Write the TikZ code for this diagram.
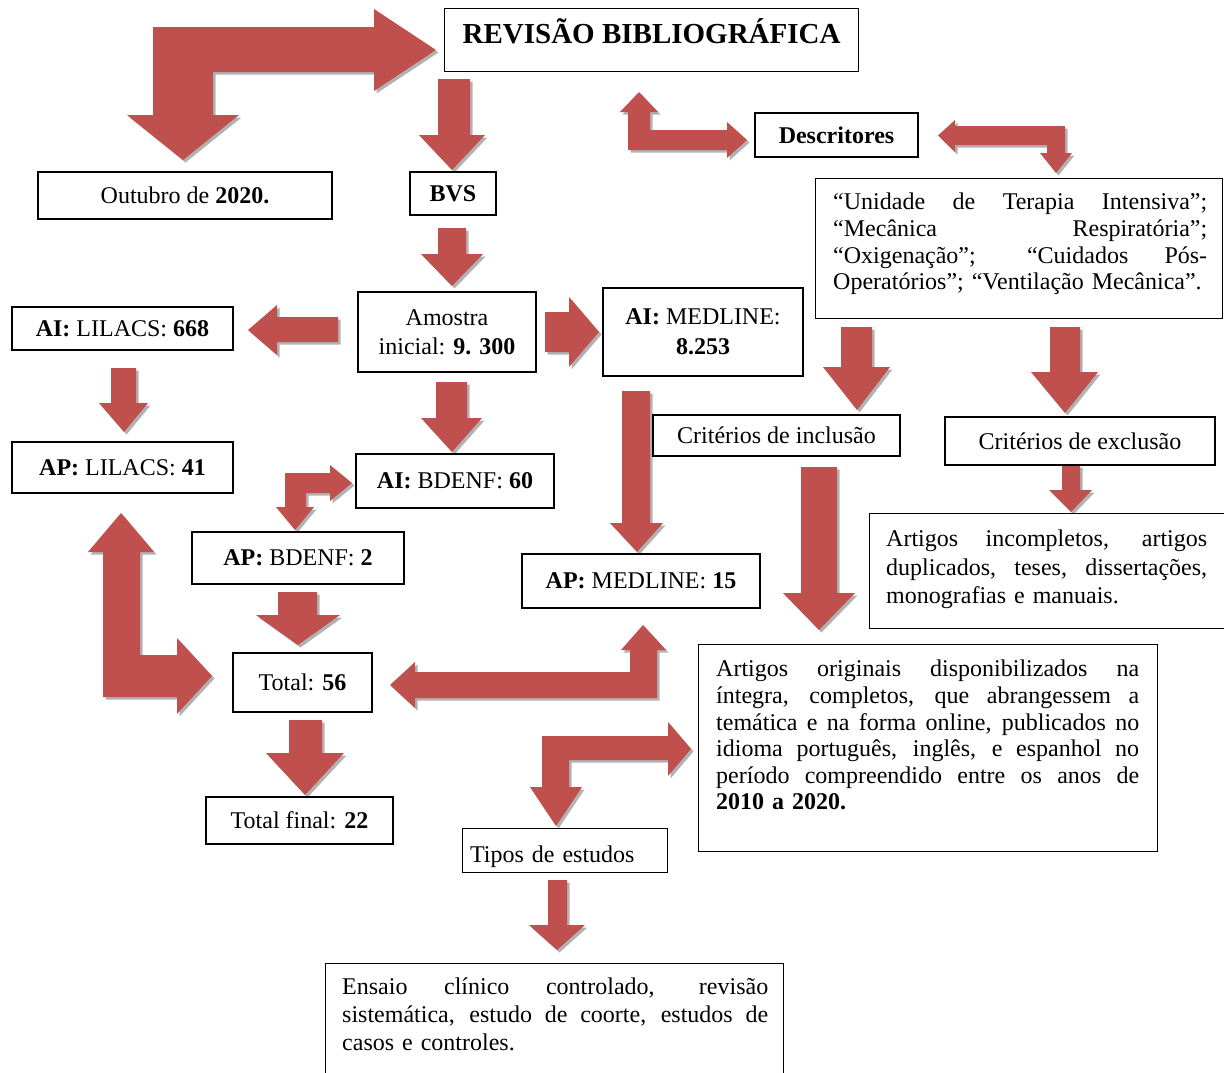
\documentclass[tikz,border=0pt]{standalone}
\usepackage{fontspec}
\setmainfont{Liberation Serif}
\usepackage{xcolor}
\definecolor{arrred}{RGB}{192,80,77}
\newcommand{\fullline}[1]{\makebox[\hsize][s]{\spaceskip=0pt\relax #1}}

\begin{document}
\begin{tikzpicture}[x=1pt,y=1pt]
		\tikzstyle{every node}+=[inner sep=0pt, font=\fontsize{24}{27}\selectfont]
		\tikzstyle{box}=[draw=black, line width=1.2pt, fill=white, align=center]
		\tikzstyle{para}=[anchor=north west, align=left, font=\fontsize{24}{26.6}\selectfont]
		\tikzstyle{blockarrow}=[fill=arrred, preaction={fill=black, opacity=0.3, transform canvas={xshift=2.5pt,yshift=-2.5pt}}]
		\useasboundingbox (0,0) rectangle (1224,-1072);
		\clip (0,0) rectangle (1224,-1072);
		\fill [white] (0,0) rectangle (1224,-1072);
		\fill [blockarrow] (153,-27) -- (374,-27) -- (374,-9) -- (436,-50) -- (374,-91) -- (374,-72) -- (213,-72) -- (213,-115) -- (239,-115) -- (183,-160) -- (127,-115) -- (153,-115) -- cycle;
		\fill [blockarrow] (438,-79) -- (470,-79) -- (470,-135) -- (485,-135) -- (452,-170) -- (419,-135) -- (438,-135) -- cycle;
		\fill [blockarrow] (438,-228) -- (466,-228) -- (466,-254) -- (483,-254) -- (452,-286) -- (421,-254) -- (438,-254) -- cycle;
		\fill [blockarrow] (338,-317) -- (277,-317) -- (277,-305) -- (248,-330) -- (277,-355) -- (277,-342) -- (338,-342) -- cycle;
		\fill [blockarrow] (545,-312) -- (569,-312) -- (569,-297) -- (599,-332) -- (569,-367) -- (569,-352) -- (545,-352) -- cycle;
		\fill [blockarrow] (111,-368) -- (136,-368) -- (136,-403) -- (148,-403) -- (124,-432) -- (99,-403) -- (111,-403) -- cycle;
		\fill [blockarrow] (436,-382) -- (467,-382) -- (467,-418) -- (482,-418) -- (452,-452) -- (421,-418) -- (436,-418) -- cycle;
		\fill [blockarrow] (285,-473) -- (330,-473) -- (330,-465) -- (352,-483) -- (330,-501) -- (330,-493) -- (306,-493) -- (306,-507) -- (314,-507) -- (295,-530) -- (276,-507) -- (285,-507) -- cycle;
		\fill [blockarrow] (103,-552) -- (88,-552) -- (121,-513) -- (154,-552) -- (140,-552) -- (140,-655) -- (177,-655) -- (177,-638) -- (212,-676) -- (177,-714) -- (177,-697) -- (103,-697) -- cycle;
		\fill [blockarrow] (278,-592) -- (317,-592) -- (317,-615) -- (340,-615) -- (298,-645) -- (256,-615) -- (278,-615) -- cycle;
		\fill [blockarrow] (289,-720) -- (322,-720) -- (322,-753) -- (344,-753) -- (305,-795) -- (266,-753) -- (289,-753) -- cycle;
		\fill [blockarrow] (415,-672) -- (630,-672) -- (630,-650) -- (621,-650) -- (643,-625) -- (666,-650) -- (657,-650) -- (657,-698) -- (415,-698) -- (415,-708) -- (390,-685) -- (415,-662) -- cycle;
		\fill [blockarrow] (622,-391) -- (650,-391) -- (650,-523) -- (663,-523) -- (637,-552) -- (610,-523) -- (622,-523) -- cycle;
		\fill [blockarrow] (841,-327) -- (872,-327) -- (872,-367) -- (890,-367) -- (857,-410) -- (823,-367) -- (841,-367) -- cycle;
		\fill [blockarrow] (1050,-327) -- (1080,-327) -- (1080,-372) -- (1098,-372) -- (1065,-413) -- (1031,-372) -- (1050,-372) -- cycle;
		\fill [blockarrow] (1062,-465) -- (1080,-465) -- (1080,-490) -- (1092,-490) -- (1071,-512) -- (1049,-490) -- (1062,-490) -- cycle;
		\fill [blockarrow] (801,-467) -- (837,-467) -- (837,-593) -- (855,-593) -- (819,-630) -- (783,-593) -- (801,-593) -- cycle;
		\fill [blockarrow] (628,-150) -- (628,-112) -- (620,-112) -- (639,-92) -- (658,-112) -- (650,-112) -- (650,-130) -- (727,-130) -- (727,-122) -- (747,-140) -- (727,-158) -- (727,-150) -- cycle;
		\fill [blockarrow] (955,-126) -- (1065,-126) -- (1065,-153) -- (1072,-153) -- (1056,-173) -- (1040,-153) -- (1047,-153) -- (1047,-145) -- (955,-145) -- (955,-152) -- (938,-135.5) -- (955,-120) -- cycle;
		\fill [blockarrow] (542,-736) -- (668,-736) -- (668,-722) -- (691,-749) -- (668,-776) -- (668,-760) -- (569,-760) -- (569,-787) -- (582,-787) -- (556,-826) -- (530,-787) -- (542,-787) -- cycle;
		\fill [blockarrow] (548,-880) -- (567,-880) -- (567,-925) -- (585,-925) -- (557,-950) -- (529,-925) -- (548,-925) -- cycle;
		\node [box, anchor=north west, minimum width=414pt, text height=35pt, text depth=28pt, font=\fontsize{29}{32}\selectfont\bfseries] (rev) at (444,-8) {REVISÃO BIBLIOGRÁFICA};
		\node [box, minimum width=294pt, minimum height=47pt] (oct) at (185,-195.5) {Outubro de \textbf{2020.}};
		\node [box, minimum width=86pt, minimum height=43pt] (bvs) at (453,-193.5) {\textbf{BVS}};
		\node [box, minimum width=163pt, minimum height=44pt] (desc) at (836.5,-135) {\textbf{Descritores}};
		\node [box, anchor=north west, minimum width=407pt, minimum height=140pt] (terms) at (815,-178) {};
		\node [para, text width=374pt] (termstxt) at ([shift={(18,-15)}]terms.north west) {\fullline{“Unidade de Terapia Intensiva”;}\\ \fullline{“Mecânica Respiratória”;}\\ \fullline{“Oxigenação”; “Cuidados Pós-}\\ Operatórios”; “Ventilação Mecânica”.};
		\node [box, minimum width=178pt, minimum height=80pt, font=\fontsize{24}{29}\selectfont] (amostra) at (447,-332) {Amostra\\inicial: \textbf{9. 300}};
		\node [box, minimum width=221pt, minimum height=43pt] (lilai) at (122.5,-328.5) {\textbf{AI:} LILACS: \textbf{668}};
		\node [box, minimum width=200pt, minimum height=88pt, font=\fontsize{24}{30}\selectfont] (medai) at (703,-332) {\textbf{AI:} MEDLINE:\\\textbf{8.253}};
		\node [box, minimum width=221pt, minimum height=51pt] (lilap) at (122.5,-467.5) {\textbf{AP:} LILACS: \textbf{41}};
		\node [box, minimum width=198pt, minimum height=54pt] (bdai) at (455,-481) {\textbf{AI:} BDENF: \textbf{60}};
		\node [box, minimum width=212pt, minimum height=52pt] (bdap) at (298,-558) {\textbf{AP:} BDENF: \textbf{2}};
		\node [box, minimum width=238pt, minimum height=54pt] (medap) at (641,-581) {\textbf{AP:} MEDLINE: \textbf{15}};
		\node [box, minimum width=247pt, minimum height=41pt] (incl) at (776.5,-435.5) {Critérios de inclusão};
		\node [box, minimum width=270pt, minimum height=48pt] (excl) at (1080,-441) {Critérios de exclusão};
		\node [box, anchor=north west, minimum width=360pt, minimum height=115pt] (excllist) at (869,-513) {};
		\node [para, text width=321pt, font=\fontsize{24}{28.5}\selectfont] (excltxt) at ([shift={(17,-17)}]excllist.north west) {\fullline{Artigos incompletos, artigos}\\ \fullline{duplicados, teses, dissertações,}\\ monografias e manuais.};
		\node [box, minimum width=139pt, minimum height=59pt] (total) at (302.5,-682.5) {Total: \textbf{56}};
		\node [box, anchor=north west, minimum width=459pt, minimum height=207pt] (incllist) at (698,-644) {};
		\node [para, text width=423pt] (incltxt) at ([shift={(18,-16)}]incllist.north west) {\fullline{Artigos originais disponibilizados na}\\ \fullline{íntegra, completos, que abrangessem a}\\ \fullline{temática e na forma online, publicados no}\\ \fullline{idioma português, inglês, e espanhol no}\\ \fullline{período compreendido entre os anos de}\\ \textbf{2010 a 2020.}};
		\node [box, minimum width=187pt, minimum height=47pt] (final) at (299.5,-820.5) {Total final: \textbf{22}};
		\node [box, anchor=north west, text width=190pt, align=left, inner xsep=7.5pt, text height=34pt, text depth=10pt] (tipos) at (462,-828) {Tipos de estudos};
		\node [box, anchor=north west, minimum width=458pt, minimum height=130pt] (tiposlist) at (325,-963) {};
		\node [para, text width=426pt, font=\fontsize{24}{28}\selectfont] (tipostxt) at ([shift={(17,-15)}]tiposlist.north west) {\fullline{Ensaio clínico controlado, revisão}\\ \fullline{sistemática, estudo de coorte, estudos de}\\ casos e controles.};
\end{tikzpicture}
\end{document}
